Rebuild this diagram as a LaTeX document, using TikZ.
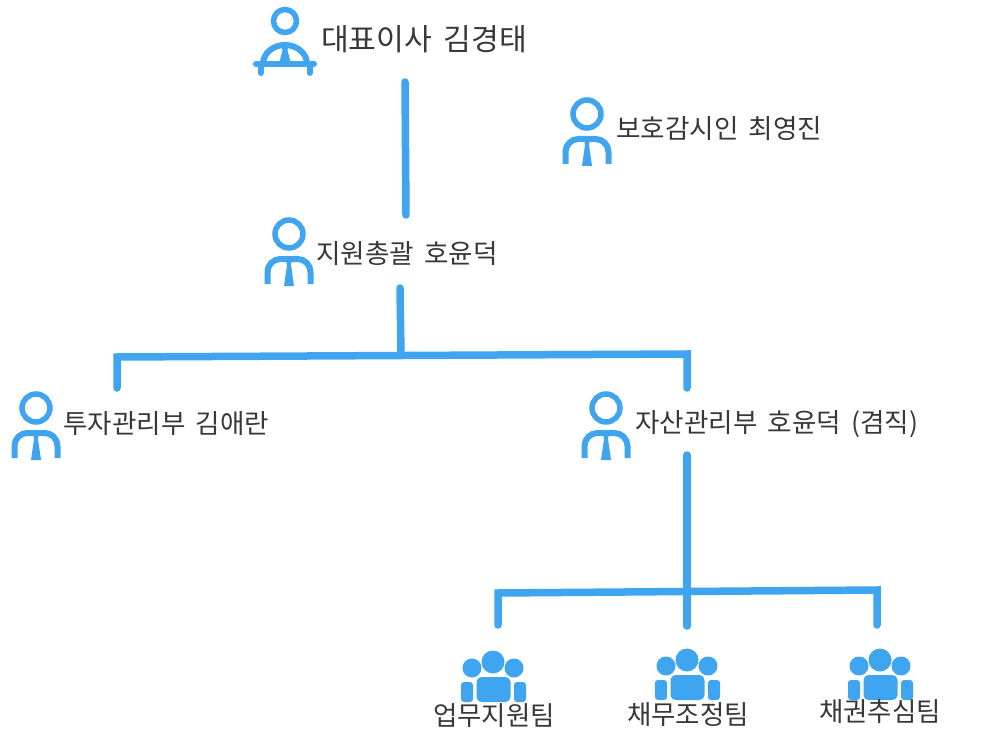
\documentclass[tikz,border=0pt]{standalone}
\usepackage{fontspec}
\setmainfont[WordSpace=1.7]{Noto Sans CJK KR}
\definecolor{orgblue}{HTML}{3FA5F0}
\definecolor{orgtext}{HTML}{383838}
\tikzset{
  font={\fontsize{26.6pt}{30pt}\selectfont},
  label/.style={inner sep=0pt,text=orgtext,anchor=west},
  teamlabel/.style={inner sep=0pt,text=orgtext,font={\fontsize{26.5pt}{30pt}\selectfont}},
  link/.style={draw=orgblue,line width=7.5pt,line cap=round},
  person/.pic={
    \draw [orgblue,line width=5.5pt] (0,0) circle (14);
    \draw [orgblue,line width=6pt] (-21.5,-50) -- (-21.5,-38) arc (180:90:13) -- (8.5,-25) arc (90:0:13) -- (21.5,-50);
    \fill [orgblue] (-3.5,-23) -- (3.5,-23) -- (2,-31) -- (5,-52) -- (-5,-52) -- (-2,-31) -- cycle;
  },
  chief/.pic={
    \draw [orgblue,line width=5.5pt] (0,0) circle (11.5);
    \draw [orgblue,line width=6pt] (-22,-43) arc (180:0:22 and 19);
    \fill [orgblue] (-4,-22) -- (4,-22) -- (2.5,-29) -- (6,-43) -- (-6,-43) -- (-2.5,-29) -- cycle;
    \draw [orgblue,line width=6pt,line cap=round] (-29,-43) -- (29,-43);
    \draw [orgblue,line width=6pt,line cap=round] (-24.5,-43) -- (-24.5,-52);
    \draw [orgblue,line width=6pt,line cap=round] (24.5,-43) -- (24.5,-52);
  },
  team/.pic={
    \fill [orgblue] (0,0) circle (11.5);
    \fill [orgblue] (-21,-6) circle (9.5);
    \fill [orgblue] (21,-6) circle (9.5);
    \fill [orgblue,rounded corners=5pt] (-16.5,-40) rectangle (17.5,-15);
    \fill [orgblue,rounded corners=3pt] (-32,-40) -- (-32,-20) -- (-20,-20) -- (-20,-40) -- cycle;
    \fill [orgblue,rounded corners=3pt] (21,-40) -- (21,-20) -- (33,-20) -- (33,-40) -- cycle;
  }
}

\begin{document}
\begin{tikzpicture}[x=1pt,y=1pt]
\useasboundingbox (0,0) rectangle (999,-749);
% people
\pic at (285,-21) {chief};
\pic at (587,-114) {person};
\pic at (289,-234) {person};
\pic at (36,-408) {person};
\pic at (606,-408) {person};
\pic at (493,-662) {team};
\pic at (687,-660) {team};
\pic at (880,-660) {team};
% names
\node [label,font={\fontsize{30.2pt}{30pt}\selectfont}] (ceo) at (321,-39) {대표이사 김경태};
\node [label] (auditor) at (616,-129) {보호감시인 최영진};
\node [label] (support) at (316,-254) {지원총괄 호윤덕};
\node [label] (invest) at (63,-424) {투자관리부 김애란};
\node [label] (asset) at (635,-424) {자산관리부 호윤덕 (겸직)};
\node [teamlabel] (opsteam) at (494,-716) {업무지원팀};
\node [teamlabel] (debtteam) at (688,-715) {채무조정팀};
\node [teamlabel] (claimteam) at (880,-712) {채권추심팀};
% line ends
\coordinate (ceoout) at (405,-82);
\coordinate (supportin) at (406,-215);
\coordinate (supportout) at (400,-288);
\coordinate (supportjoin) at (401,-355);
\coordinate (investbar) at (117,-357);
\coordinate (investin) at (117,-388);
\coordinate (assetbar) at (687,-354);
\coordinate (assetin) at (687,-388);
\coordinate (assetout) at (687,-455);
\coordinate (debtin) at (687,-626);
\coordinate (opsbar) at (498,-593);
\coordinate (opsin) at (498,-625);
\coordinate (claimbar) at (877,-590);
\coordinate (claimin) at (877,-625);
% connectors
\draw [link] (ceoout) -- (supportin);
\draw [link] (supportout) -- (supportjoin);
\draw [link] (investin) -- (investbar) -- (assetbar) -- (assetin);
\draw [link] (assetout) -- (debtin);
\draw [link] (opsin) -- (opsbar) -- (claimbar) -- (claimin);
\end{tikzpicture}
\end{document}
